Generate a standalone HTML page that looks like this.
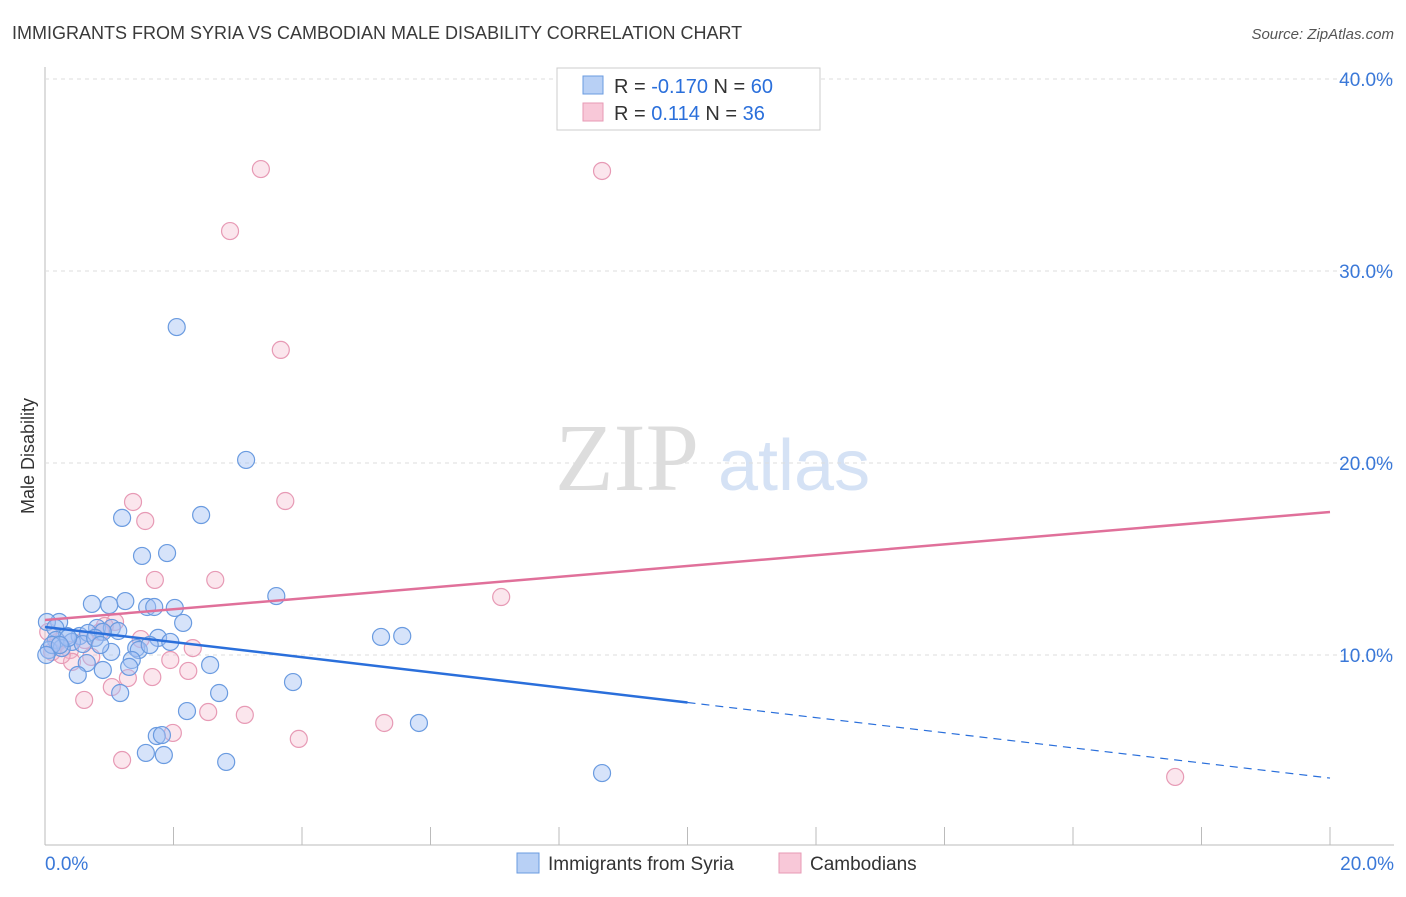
<!DOCTYPE html>
<html><head><meta charset="utf-8"><style>
body{margin:0;background:#fff;font-family:"Liberation Sans",sans-serif}
#wrap{position:relative;width:1406px;height:892px}
</style></head><body>
<div id="wrap">
<svg id="svg" width="1406" height="892" xmlns="http://www.w3.org/2000/svg">
<text x="12" y="39" font-size="18" fill="#3a3a3a">IMMIGRANTS FROM SYRIA VS CAMBODIAN MALE DISABILITY CORRELATION CHART</text>
<text x="1394" y="39" font-size="15" fill="#555" font-style="italic" text-anchor="end">Source: ZipAtlas.com</text>
<text x="34" y="456" font-size="18" fill="#333" text-anchor="middle" transform="rotate(-90 34 456)">Male Disability</text>
<text x="555" y="490" font-size="96" fill="#ddd" font-family="Liberation Serif,serif">ZIP</text>
<text x="718" y="490" font-size="72" fill="#d5e2f5">atlas</text>
<g id="grid"></g><g id="pts"></g><g id="lines"></g>
<g>
<rect x="557" y="68" width="263" height="62" fill="#fff" stroke="#ccc"/>
<rect x="583" y="76" width="20" height="18" fill="#b8d0f5" stroke="#6a9be0"/>
<rect x="583" y="103" width="20" height="18" fill="#f8c8d8" stroke="#e79ab5"/>
<text x="614" y="93" font-size="20" fill="#333">R = <tspan fill="#2a6fdb">-0.170</tspan>   N = <tspan fill="#2a6fdb">60</tspan></text>
<text x="614" y="120" font-size="20" fill="#333">R =   <tspan fill="#2a6fdb">0.114</tspan>   N = <tspan fill="#2a6fdb">36</tspan></text>
</g>
<g>
<rect x="517" y="853" width="22" height="20" fill="#b8d0f5" stroke="#6a9be0"/>
<text x="548" y="870" font-size="19" fill="#333">Immigrants from Syria</text>
<rect x="779" y="853" width="22" height="20" fill="#f8c8d8" stroke="#e79ab5"/>
<text x="810" y="870" font-size="19" fill="#333">Cambodians</text>
</g>
</svg></div>
<script>
const xTicks=[0,2,4,6,8,10,12,14,16,18,20];
const yTicks=[10,20,30,40];
const syriaX=[2.05,3.13,1.20,2.43,1.51,1.90,0.73,1.25,1.00,1.59,1.70,2.02,3.60,2.15,0.22,0.03,0.16,0.81,1.04,1.14,0.34,0.54,0.67,0.90,1.76,1.95,5.23,5.56,0.17,0.42,0.59,1.42,1.46,1.03,1.35,1.31,0.06,0.26,2.57,0.65,0.90,0.51,3.86,2.71,1.17,2.21,5.82,1.74,1.82,1.57,1.85,2.82,8.67,0.11,0.36,0.02,0.78,1.63,0.86,0.23];
const syriaY=[27.08,20.16,17.14,17.29,15.16,15.31,12.66,12.81,12.60,12.50,12.50,12.45,13.07,11.67,11.72,11.72,11.41,11.41,11.41,11.25,10.99,10.99,11.15,11.20,10.89,10.68,10.94,10.99,10.78,10.68,10.57,10.36,10.26,10.16,9.74,9.38,10.26,10.36,9.48,9.58,9.22,8.96,8.59,8.02,8.02,7.08,6.46,5.78,5.83,4.90,4.79,4.43,3.85,10.52,10.89,10.00,10.89,10.52,10.52,10.52];
const cambX=[3.36,8.67,2.88,3.67,1.37,3.74,1.56,1.71,2.65,7.10,1.09,0.86,1.49,0.20,0.62,0.39,2.30,0.11,0.72,1.95,2.23,0.42,1.67,1.04,1.29,0.61,2.54,3.11,5.28,1.99,3.95,1.20,17.59,0.93,0.05,0.26];
const cambY=[35.31,35.21,32.08,25.89,17.97,18.02,16.98,13.91,13.91,13.02,11.72,11.20,10.83,10.68,10.78,10.26,10.36,10.16,9.90,9.74,9.17,9.64,8.85,8.33,8.80,7.66,7.03,6.88,6.46,5.94,5.63,4.53,3.65,11.51,11.20,10.00];
const syriaTrend=[11.46,3.59];
const cambTrend=[11.82,17.45];
const NS="http://www.w3.org/2000/svg";
const X=v=>45+v*64.25, Y=v=>847-v*19.2;
function mk(tag,at,parent){const e=document.createElementNS(NS,tag);for(const k in at)e.setAttribute(k,at[k]);document.getElementById(parent).appendChild(e);return e;}
const grid='grid';
let e=mk('line',{x1:45,y1:67,x2:45,y2:845,stroke:'#bbb'},grid);


e=mk('line',{x1:45,y1:845,x2:1394,y2:845,stroke:'#bbb'},grid);


yTicks.forEach(t=>{
 e=mk('line',{x1:45,y1:Y(t),x2:1394,y2:Y(t),stroke:'#ddd','stroke-dasharray':'4,4'},grid);
 
 
 e=mk('text',{x:1393,y:Y(t)+7,'font-size':19,fill:'#3a78d8','text-anchor':'end'},grid);e.textContent=t.toFixed(1)+'%';
 
 
});
xTicks.forEach(t=>{
 e=mk('line',{x1:X(t),y1:827,x2:X(t),y2:845,stroke:'#bbb'},grid);
 
 
});
[[0,'start',45],[20,'end',1394]].forEach(([t,a,px])=>{
 e=mk('text',{x:px,y:870,'font-size':19,fill:'#3a78d8','text-anchor':a},grid);e.textContent=t.toFixed(1)+'%';
 
 
});
cambX.forEach((v,i)=>{
 e=mk('circle',{cx:X(v),cy:Y(cambY[i]),r:8.5,fill:'rgba(244,182,204,0.35)',stroke:'#e79ab5','stroke-width':1.2},'pts');
 
 
});
syriaX.forEach((v,i)=>{
 e=mk('circle',{cx:X(v),cy:Y(syriaY[i]),r:8.5,fill:'rgba(164,194,244,0.45)',stroke:'#6a9be0','stroke-width':1.2},'pts');
 
 
});
const sy=x=>syriaTrend[0]+(syriaTrend[1]-syriaTrend[0])*x/20;
e=mk('line',{x1:X(0),y1:Y(sy(0)),x2:X(10),y2:Y(sy(10)),stroke:'#2a6fdb','stroke-width':2.5},'lines');


e=mk('line',{x1:X(10),y1:Y(sy(10)),x2:X(20),y2:Y(sy(20)),stroke:'#2a6fdb','stroke-width':1.2,'stroke-dasharray':'8,6'},'lines');


e=mk('line',{x1:X(0),y1:Y(cambTrend[0]),x2:X(20),y2:Y(cambTrend[1]),stroke:'#e0709a','stroke-width':2.5},'lines');


</script>
</body></html>
